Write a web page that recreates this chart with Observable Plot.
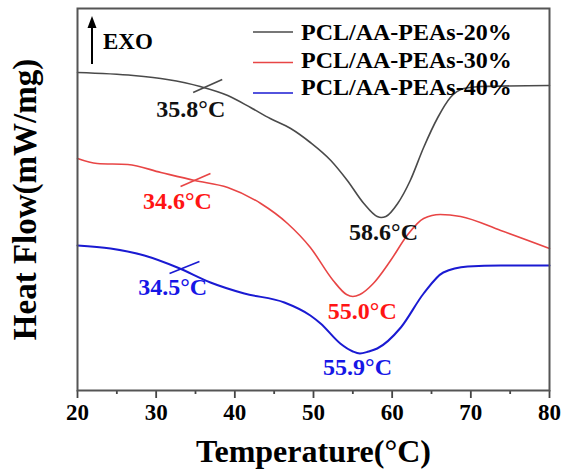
<!DOCTYPE html>
<html>
<head>
<meta charset="utf-8">
<script src="https://cdn.jsdelivr.net/npm/d3@7"></script>
<script src="https://cdn.jsdelivr.net/npm/@observablehq/plot@0.6"></script>
<style>
  html, body { margin: 0; padding: 0; background: #fff; }
  #chart svg text { font-weight: bold; }
</style>
</head>
<body>
<div id="chart"></div>
<script>
// ---- Data (heat flow in arbitrary units) ----
const seriesNames = ["PCL/AA-PEAs-20%", "PCL/AA-PEAs-30%", "PCL/AA-PEAs-40%"];
const seriesColors = ["#4a4a4a", "#e84545", "#1a1ad2"];
const labelColors = ["#111111", "#ff1414", "#1616e6"];

const temp20 = [20, 27.1, 31.4, 35.6, 39.1, 42.0, 44.5, 47.1, 49.6, 52.2, 54.3, 56.4, 58.1, 58.6, 59.2, 60.7, 62.3, 64.0, 65.8, 67.4, 69.1, 71.2, 80];
const flow20 = [3.18, 3.15, 3.11, 3.04, 2.95, 2.83, 2.72, 2.62, 2.48, 2.30, 2.10, 1.87, 1.74, 1.73, 1.74, 1.87, 2.10, 2.43, 2.73, 2.93, 3.02, 3.04, 3.05];

const temp30 = [20, 22.5, 26.4, 30.6, 34.9, 39.1, 43.3, 46.7, 49.6, 52.5, 54.2, 55.0, 55.9, 57.6, 59.8, 61.9, 64.0, 66.1, 68.7, 73.8, 80];
const flow30 = [2.32, 2.27, 2.26, 2.18, 2.10, 2.03, 1.87, 1.67, 1.43, 1.10, 0.96, 0.94, 0.96, 1.07, 1.30, 1.55, 1.72, 1.76, 1.74, 1.60, 1.42];

const temp40 = [20, 24.2, 28.5, 32.7, 36.9, 41.2, 46.3, 49.6, 50.9, 53.4, 55.0, 55.9, 57.0, 58.1, 61.1, 64.0, 66.5, 69.6, 73.8, 80];
const flow40 = [1.45, 1.42, 1.35, 1.23, 1.08, 0.97, 0.88, 0.75, 0.67, 0.47, 0.39, 0.37, 0.39, 0.42, 0.63, 0.97, 1.18, 1.24, 1.25, 1.25];

// onset tangent marks: [x1, y1, x2, y2]
const tangents = [
  [34.7, 2.98, 38.4, 3.11],
  [33.1, 2.04, 36.9, 2.17],
  [31.7, 1.17, 35.5, 1.29]
];

// annotation labels: series index, x, y, text
const annoSeries = [0, 0, 1, 1, 2, 2];
const annoX = [34.4, 58.9, 32.7, 56.2, 32.1, 55.6];
const annoY = [2.81, 1.58, 1.89, 0.79, 1.03, 0.23];
const annoText = ["35.8°C", "58.6°C", "34.6°C", "55.0°C", "34.5°C", "55.9°C"];

const majorTicks = [20, 30, 40, 50, 60, 70, 80];
const minorTicks = [25, 35, 45, 55, 65, 75];

const xTitle = "Temperature(°C)";
const yTitle = "Heat Flow(mW/mg)";
const exoText = "EXO";

// ---- Build tables ----
const temps = [temp20, temp30, temp40];
const flows = [flow20, flow30, flow40];
const curves = [];
temps.forEach((tx, i) => tx.forEach((t, j) => curves.push({series: i, t, f: flows[i][j]})));
const tangentRows = tangents.map((d, i) => ({series: i, x1: d[0], y1: d[1], x2: d[2], y2: d[3]}));
const annos = annoText.map((s, i) => ({series: annoSeries[i], x: annoX[i], y: annoY[i], text: s}));

const FONT = "'Liberation Serif', 'Times New Roman', Times, serif";

const chart = Plot.plot({
  width: 561,
  height: 472,
  marginLeft: 77,
  marginRight: 12,
  marginTop: 8,
  marginBottom: 82,
  style: {fontFamily: FONT, fontWeight: "bold", fontSize: "22px", color: "#000", background: "#fff"},
  x: {domain: [20, 80]},
  y: {domain: [0, 3.82], axis: null},
  marks: [
    Plot.axisX({ticks: minorTicks, tickSize: 4, text: null, label: null, stroke: "#444", strokeWidth: 1.8}),
    Plot.axisX({ticks: majorTicks, tickSize: 8, tickPadding: 5, tickFormat: d => String(d), label: null,
                fontSize: 23, fontWeight: "bold", stroke: "#444", strokeWidth: 1.8, fill: "#000"}),
    ...[0, 1, 2].map(i => Plot.line(curves.filter(d => d.series === i), {
      x: "t", y: "f", stroke: seriesColors[i], strokeWidth: i === 2 ? 2 : 1.6, curve: "monotone-x"
    })),
    ...[0, 1, 2].map(i => Plot.link(tangentRows.filter(d => d.series === i), {
      x1: "x1", y1: "y1", x2: "x2", y2: "y2", stroke: seriesColors[i], strokeWidth: 1.6
    })),
    ...[0, 1, 2].map(i => Plot.text(annos.filter(d => d.series === i), {
      x: "x", y: "y", text: "text", fill: labelColors[i], fontSize: 24, fontWeight: "bold", lineAnchor: "middle"
    })),
    Plot.text([xTitle], {frameAnchor: "bottom", dy: 61, text: d => d, fontSize: 32, fontWeight: "bold",
                         textAnchor: "middle", lineAnchor: "middle", fill: "#000"}),
    Plot.text([yTitle], {frameAnchor: "left", dx: -52, rotate: -90, text: d => d, fontSize: 33, fontWeight: "bold",
                         textAnchor: "middle", lineAnchor: "middle", fill: "#000"}),
    Plot.frame({stroke: "#555", strokeWidth: 2})
  ]
});

document.getElementById("chart").appendChild(chart);

// ---- Legend and EXO arrow (decorations inside the frame) ----
const svg = d3.select(chart);
const lg = svg.append("g").attr("font-family", FONT).attr("font-weight", "bold").attr("font-size", 24)
  .attr("text-anchor", "start");
seriesNames.forEach((name, i) => {
  const ly = 32 + i * 30.5;
  lg.append("line").attr("x1", 253).attr("x2", 293).attr("y1", ly).attr("y2", ly)
    .attr("stroke", seriesColors[i]).attr("stroke-width", 1.6);
  lg.append("text").attr("x", 301).attr("y", 32 + i * 27.5).attr("dy", "0.35em")
    .attr("text-anchor", "start").attr("fill", "#000").text(name);
});
const ex = svg.append("g");
ex.append("line").attr("x1", 92).attr("x2", 92).attr("y1", 64).attr("y2", 26)
  .attr("stroke", "#000").attr("stroke-width", 2);
ex.append("path").attr("d", "M92,16 L87.5,28 L96.5,28 Z").attr("fill", "#000");
ex.append("text").attr("x", 103).attr("y", 41).attr("dy", "0.35em").attr("text-anchor", "start")
  .attr("font-family", FONT).attr("font-weight", "bold").attr("font-size", 23).attr("fill", "#000").text(exoText);
</script>
</body>
</html>
